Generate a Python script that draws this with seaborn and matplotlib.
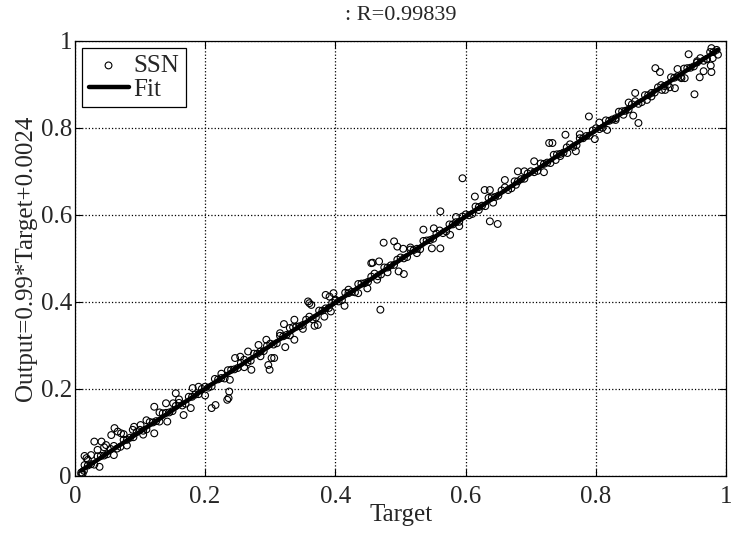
import numpy as np
import pandas as pd
import matplotlib
matplotlib.use("Agg")
import matplotlib.pyplot as plt
import seaborn as sns

# Dense band along the fit line (two interleaved rows)
core_target_a = [0.01, 0.02, 0.03, 0.04, 0.05, 0.06, 0.07, 0.08, 0.09,
                 0.10, 0.11, 0.12, 0.13, 0.14, 0.15, 0.16, 0.17, 0.18, 0.19,
                 0.20, 0.21, 0.22, 0.23, 0.24, 0.25, 0.26, 0.27, 0.28, 0.29,
                 0.30, 0.31, 0.32, 0.33, 0.34, 0.35, 0.36, 0.37, 0.38, 0.39,
                 0.40, 0.41, 0.42, 0.43, 0.44, 0.45, 0.46, 0.47, 0.48, 0.49,
                 0.50, 0.51, 0.52, 0.53, 0.54, 0.55, 0.56, 0.57, 0.58, 0.59,
                 0.60, 0.61, 0.62, 0.63, 0.64, 0.65, 0.66, 0.67, 0.68, 0.69,
                 0.70, 0.71, 0.72, 0.73, 0.74, 0.75, 0.76, 0.77, 0.78, 0.79,
                 0.80, 0.81, 0.82, 0.83, 0.84, 0.85, 0.86, 0.87, 0.88, 0.89,
                 0.90, 0.91, 0.92, 0.93, 0.94, 0.95, 0.96, 0.97, 0.98]
core_output_a = [0.008, 0.024, 0.026, 0.046, 0.050, 0.069, 0.067, 0.083, 0.089,
                 0.106, 0.107, 0.123, 0.125, 0.145, 0.149, 0.168, 0.166, 0.182, 0.188,
                 0.205, 0.206, 0.222, 0.224, 0.244, 0.248, 0.267, 0.265, 0.281, 0.287,
                 0.304, 0.305, 0.321, 0.323, 0.343, 0.347, 0.366, 0.364, 0.380, 0.386,
                 0.403, 0.404, 0.420, 0.422, 0.442, 0.446, 0.465, 0.463, 0.479, 0.485,
                 0.502, 0.503, 0.519, 0.521, 0.541, 0.545, 0.564, 0.562, 0.578, 0.584,
                 0.601, 0.602, 0.618, 0.620, 0.640, 0.644, 0.663, 0.661, 0.677, 0.683,
                 0.700, 0.701, 0.717, 0.719, 0.739, 0.743, 0.762, 0.760, 0.776, 0.782,
                 0.799, 0.800, 0.816, 0.818, 0.838, 0.842, 0.861, 0.859, 0.875, 0.881,
                 0.898, 0.899, 0.915, 0.917, 0.937, 0.941, 0.960, 0.958, 0.974]

core_target_b = [0.015, 0.025, 0.035, 0.045, 0.055, 0.065, 0.075, 0.085, 0.095,
                 0.105, 0.115, 0.125, 0.135, 0.145, 0.155, 0.165, 0.175, 0.185, 0.195,
                 0.205, 0.215, 0.225, 0.235, 0.245, 0.255, 0.265, 0.275, 0.285, 0.295,
                 0.305, 0.315, 0.325, 0.335, 0.345, 0.355, 0.365, 0.375, 0.385, 0.395,
                 0.405, 0.415, 0.425, 0.435, 0.445, 0.455, 0.465, 0.475, 0.485, 0.495,
                 0.505, 0.515, 0.525, 0.535, 0.545, 0.555, 0.565, 0.575, 0.585, 0.595,
                 0.605, 0.615, 0.625, 0.635, 0.645, 0.655, 0.665, 0.675, 0.685, 0.695,
                 0.705, 0.715, 0.725, 0.735, 0.745, 0.755, 0.765, 0.775, 0.785, 0.795,
                 0.805, 0.815, 0.825, 0.835, 0.845, 0.855, 0.865, 0.875, 0.885, 0.895,
                 0.905, 0.915, 0.925, 0.935, 0.945, 0.955, 0.965, 0.975, 0.985]
core_output_b = [0.025, 0.027, 0.045, 0.047, 0.062, 0.063, 0.083, 0.088, 0.101,
                 0.104, 0.124, 0.126, 0.144, 0.146, 0.161, 0.162, 0.182, 0.187, 0.200,
                 0.203, 0.223, 0.225, 0.243, 0.245, 0.260, 0.261, 0.281, 0.286, 0.299,
                 0.302, 0.322, 0.324, 0.342, 0.344, 0.359, 0.360, 0.380, 0.385, 0.398,
                 0.401, 0.421, 0.423, 0.441, 0.443, 0.458, 0.459, 0.479, 0.484, 0.497,
                 0.500, 0.520, 0.522, 0.540, 0.542, 0.557, 0.558, 0.578, 0.583, 0.596,
                 0.599, 0.619, 0.621, 0.639, 0.641, 0.656, 0.657, 0.677, 0.682, 0.695,
                 0.698, 0.718, 0.720, 0.738, 0.740, 0.755, 0.756, 0.776, 0.781, 0.794,
                 0.797, 0.817, 0.819, 0.837, 0.839, 0.854, 0.855, 0.875, 0.880, 0.893,
                 0.896, 0.916, 0.918, 0.936, 0.938, 0.953, 0.954, 0.974, 0.979]

# Points that stand off the band
spread_target = [0.010, 0.012, 0.014, 0.015, 0.018, 0.020, 0.025, 0.030, 0.035, 0.038,
                 0.041, 0.045, 0.048, 0.056, 0.060, 0.061, 0.066, 0.071, 0.075, 0.080,
                 0.089, 0.091, 0.101, 0.105, 0.110, 0.122, 0.122, 0.130, 0.140, 0.142,
                 0.151, 0.155, 0.160, 0.167, 0.178, 0.181, 0.190, 0.200, 0.210, 0.216,
                 0.225, 0.234, 0.236, 0.237, 0.238, 0.246, 0.254, 0.260, 0.266, 0.271,
                 0.282, 0.285, 0.294, 0.297, 0.299, 0.302, 0.306, 0.315, 0.321, 0.323,
                 0.330, 0.337, 0.337, 0.350, 0.358, 0.360, 0.363, 0.368, 0.373, 0.383,
                 0.385, 0.391, 0.393, 0.397, 0.400, 0.414, 0.420, 0.435, 0.449, 0.455,
                 0.457, 0.464, 0.467, 0.469, 0.474, 0.480, 0.490, 0.495, 0.497, 0.504,
                 0.505, 0.515, 0.525, 0.535, 0.548, 0.551, 0.561, 0.561, 0.576, 0.585,
                 0.590, 0.595, 0.614, 0.620, 0.629, 0.637, 0.637, 0.642, 0.649, 0.660,
                 0.677, 0.680, 0.690, 0.705, 0.720, 0.728, 0.733, 0.738, 0.745, 0.753,
                 0.756, 0.769, 0.775, 0.789, 0.798, 0.805, 0.817, 0.830, 0.842, 0.850,
                 0.857, 0.860, 0.865, 0.878, 0.885, 0.891, 0.898, 0.901, 0.906, 0.913,
                 0.921, 0.925, 0.931, 0.936, 0.942, 0.951, 0.955, 0.959, 0.965, 0.970,
                 0.976, 0.977, 0.977, 0.979, 0.987]
spread_output = [0.004, 0.005, 0.012, 0.046, 0.041, 0.037, 0.048, 0.079, 0.060, 0.021,
                 0.079, 0.066, 0.071, 0.094, 0.048, 0.110, 0.102, 0.098, 0.096, 0.070,
                 0.106, 0.113, 0.117, 0.095, 0.128, 0.159, 0.098, 0.146, 0.167, 0.125,
                 0.167, 0.190, 0.176, 0.140, 0.156, 0.202, 0.205, 0.185, 0.156, 0.163,
                 0.235, 0.175, 0.179, 0.194, 0.221, 0.271, 0.274, 0.250, 0.286, 0.244,
                 0.301, 0.275, 0.313, 0.255, 0.244, 0.271, 0.271, 0.328, 0.349, 0.296,
                 0.340, 0.313, 0.359, 0.338, 0.401, 0.397, 0.393, 0.345, 0.347, 0.366,
                 0.416, 0.412, 0.378, 0.420, 0.405, 0.391, 0.428, 0.420, 0.431, 0.489,
                 0.490, 0.451, 0.493, 0.382, 0.536, 0.468, 0.539, 0.527, 0.470, 0.522,
                 0.464, 0.525, 0.512, 0.566, 0.523, 0.569, 0.523, 0.608, 0.554, 0.595,
                 0.574, 0.684, 0.642, 0.611, 0.657, 0.657, 0.585, 0.628, 0.579, 0.680,
                 0.669, 0.700, 0.700, 0.723, 0.698, 0.765, 0.765, 0.726, 0.735, 0.784,
                 0.742, 0.746, 0.785, 0.826, 0.774, 0.812, 0.795, 0.822, 0.830, 0.858,
                 0.828, 0.880, 0.811, 0.864, 0.872, 0.937, 0.928, 0.887, 0.887, 0.893,
                 0.891, 0.935, 0.914, 0.914, 0.969, 0.877, 0.950, 0.916, 0.930, 0.958,
                 0.943, 0.928, 0.983, 0.960, 0.968]

fit_slope = 0.99
fit_intercept = 0.0024
r_value = "0.99839"
tick_values = [0, 0.2, 0.4, 0.6, 0.8, 1]
tick_labels = ["0", "0.2", "0.4", "0.6", "0.8", "1"]

df = pd.DataFrame({
    "Target": core_target_a + core_target_b + spread_target,
    "Output": core_output_a + core_output_b + spread_output,
})

sns.set_style("ticks")
plt.rcParams["font.family"] = "serif"
plt.rcParams["font.serif"] = ["Liberation Serif", "Times New Roman", "DejaVu Serif"]

fig = plt.figure(figsize=(7.33, 5.36), dpi=100)
ax = fig.add_axes([0.102, 0.112, 0.889, 0.812])

sns.scatterplot(data=df, x="Target", y="Output", ax=ax, marker="o",
                facecolor="none", edgecolor="black", s=24, linewidth=0.8,
                label="SSN")

fit_x = np.array([df["Target"].min(), df["Target"].max()])
fit_y = fit_slope * fit_x + fit_intercept
sns.lineplot(x=fit_x, y=fit_y, ax=ax, color="black", linewidth=3.2, label="Fit")

ax.set_xlim(0, 1)
ax.set_ylim(0, 1)
ax.set_xticks(tick_values)
ax.set_xticklabels(tick_labels)
ax.set_yticks(tick_values)
ax.set_yticklabels(tick_labels)
ax.tick_params(direction="in", length=5, top=True, right=True, labelsize=18,
               pad=2, color="black")
ax.tick_params(axis="x", pad=7)
ax.grid(True, linestyle=":", color="black", linewidth=0.9)
for sp in ax.spines.values():
    sp.set_color("black")
    sp.set_linewidth(0.9)

ax.set_xlabel("Target", fontsize=18, labelpad=-3)
ax.set_ylabel("Output=0.99*Target+0.0024", fontsize=18, labelpad=3)
ax.set_title(": R=" + r_value, fontsize=16, pad=15)

leg = ax.legend(loc="upper left", frameon=True, fancybox=False, edgecolor="black",
                framealpha=1, fontsize=18, handlelength=1.6, handletextpad=0.2,
                borderpad=0.25, labelspacing=0.05, borderaxespad=0.3)
leg.get_frame().set_linewidth(0.9)

fig.savefig("out.png", dpi=100)
